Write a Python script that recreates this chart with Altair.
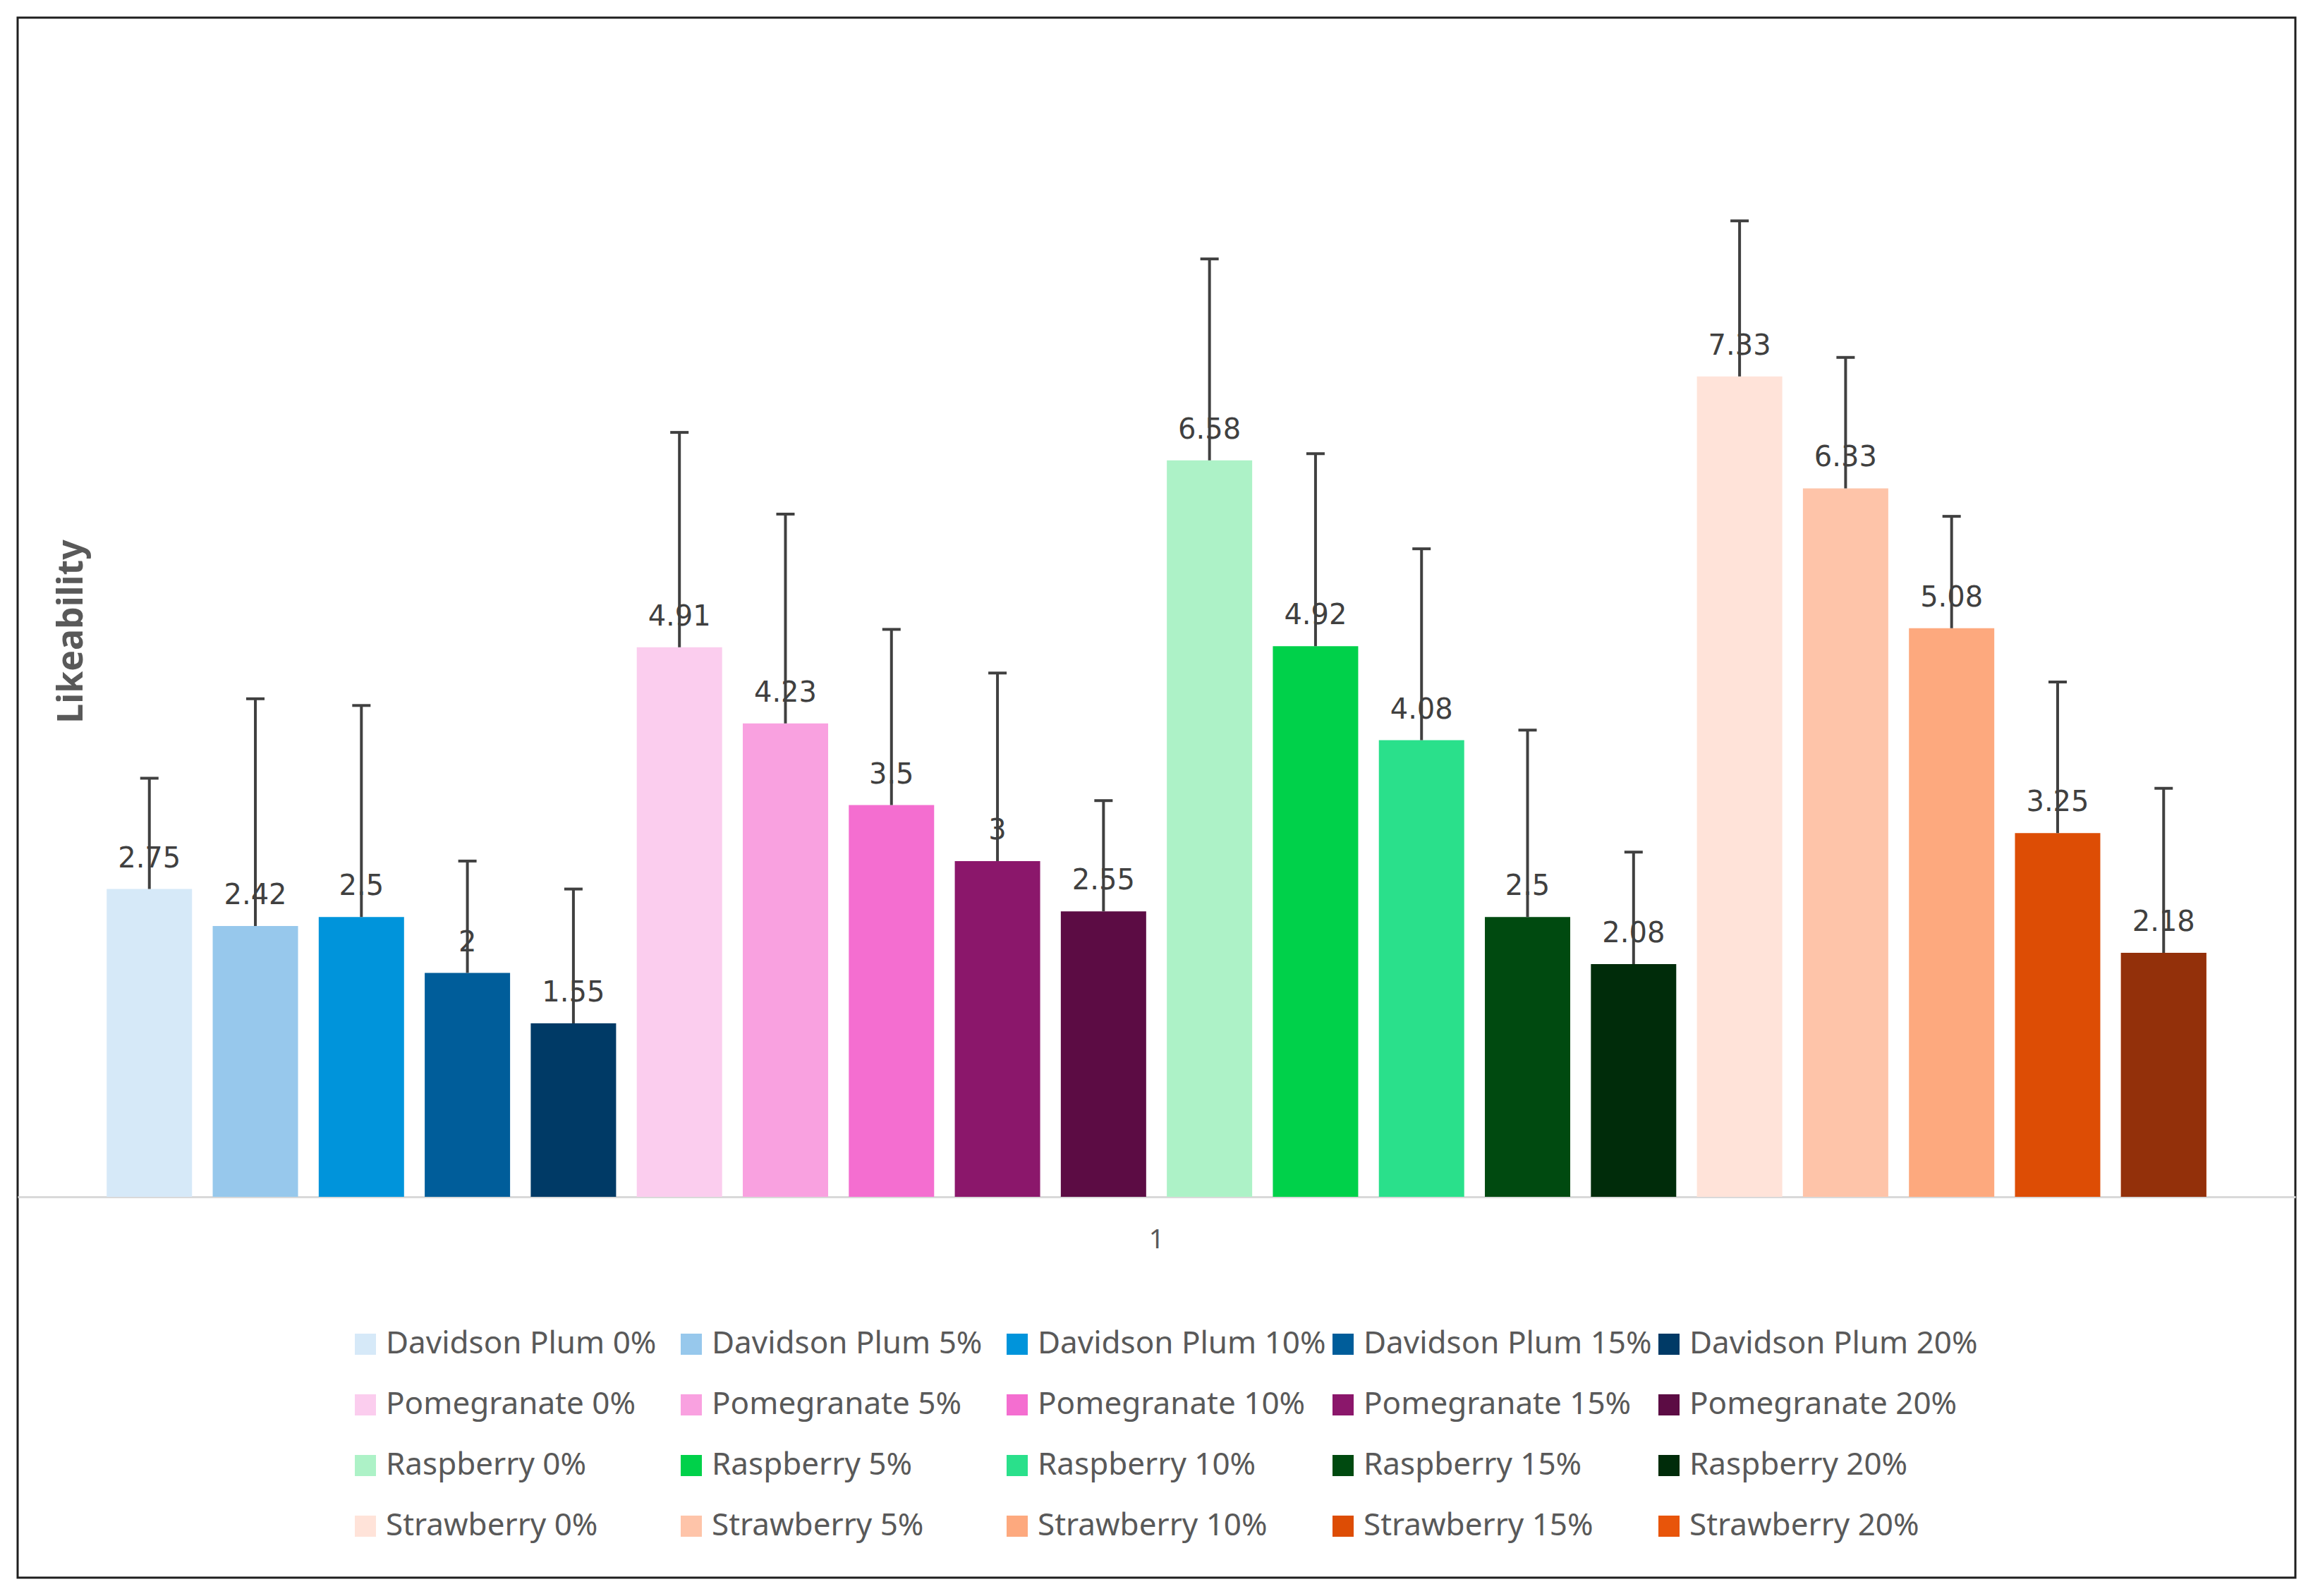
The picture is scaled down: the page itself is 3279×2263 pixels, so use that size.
import altair as alt
import pandas as pd

fruits = ["Davidson Plum", "Pomegranate", "Raspberry", "Strawberry"]
levels = ["0%", "5%", "10%", "15%", "20%"]
means = [2.75, 2.42, 2.5, 2.0, 1.55,
         4.91, 4.23, 3.5, 3.0, 2.55,
         6.58, 4.92, 4.08, 2.5, 2.08,
         7.33, 6.33, 5.08, 3.25, 2.18]
errors = [0.99, 2.03, 1.89, 1.00, 1.20,
          1.92, 1.87, 1.57, 1.68, 0.99,
          1.80, 1.72, 1.71, 1.67, 1.00,
          1.39, 1.17, 1.00, 1.35, 1.47]
legend_colors = ["#D6E9F8", "#97C8EC", "#0094DB", "#005D9A", "#003A66",
                 "#FBCDEE", "#F9A1E0", "#F46ED0", "#8B176B", "#5C0C44",
                 "#ADF2C7", "#00D14A", "#2AE08B", "#004A10", "#002C0A",
                 "#FFE3D9", "#FEC4A9", "#FDA97E", "#DD4D05", "#E8550A"]
override_series = "Strawberry 20%"
override_color = "#93300A"
category = "1"

series = [f"{f} {l}" for f in fruits for l in levels]
df = pd.DataFrame({
    "group": [category] * len(series),
    "series": series,
    "mean": means,
    "upper": [m + e for m, e in zip(means, errors)],
})

x = alt.X("group:N", title=None,
          scale=alt.Scale(paddingInner=0, paddingOuter=0),
          axis=alt.Axis(orient="bottom", offset=-540, domainColor="#D9D9D9",
                        domainWidth=3, ticks=False, labelAngle=0, labelFontSize=38,
                        labelColor="#595959", labelFont="Noto Sans", labelPadding=42))
xo = alt.XOffset("series:N", sort=series,
                 scale=alt.Scale(domain=series, paddingInner=0.195, paddingOuter=0.84))
y = alt.Y("mean:Q", stack=None,
          scale=alt.Scale(domain=[-3.403, 10.536], nice=False, zero=False),
          axis=alt.Axis(title="Likeability", domain=False, ticks=False, labels=False,
                        grid=False, titleFontSize=50, titleFontWeight="bold",
                        titleColor="#595959", titleFont="Noto Sans",
                        titleX=76, titleY=870, titleBaseline="middle", titleAngle=270))

base = alt.Chart(df)

bars = base.mark_bar().encode(
    x=x, xOffset=xo, y=y,
    color=alt.Color("series:N", sort=series,
                    scale=alt.Scale(domain=series, range=legend_colors),
                    legend=alt.Legend(orient="none", legendX=471, legendY=1859,
                                      columns=5, direction="horizontal", title=None,
                                      symbolType="square", symbolSize=900,
                                      symbolStrokeWidth=0, symbolOpacity=1,
                                      labelFontSize=44, labelFont="Noto Sans",
                                      labelColor="#595959", labelOffset=7,
                                      labelLimit=900, columnPadding=2,
                                      rowPadding=42, gridAlign="all")),
)

overlay = base.transform_filter(alt.datum.series == override_series).mark_bar(
    color=override_color).encode(x=x, xOffset=xo, y=y)

labels = base.mark_text(font="DejaVu Sans", fontSize=40, color="#404040",
                        baseline="alphabetic", dy=-31).encode(
    x=x, xOffset=xo, y=y, text=alt.Text("mean:Q", format="~g"))

rules = base.mark_rule(color="#404040", strokeWidth=4).encode(
    x=x, xOffset=xo, y=y, y2="upper:Q")

caps = base.mark_tick(color="#404040", thickness=4, size=26, opacity=1).encode(
    x=x, xOffset=xo, y=alt.Y("upper:Q"))

chart = alt.layer(bars, overlay, labels, rules, caps).properties(
    width=3229, height=2212,
    background="white",
    autosize=alt.AutoSizeParams(type="none"),
    padding={"left": 17, "top": 17, "right": 17, "bottom": 17},
).configure_view(stroke="#1f1f1f", strokeWidth=3)

chart.save("out.html", embed_options={"renderer": "svg", "actions": False})
